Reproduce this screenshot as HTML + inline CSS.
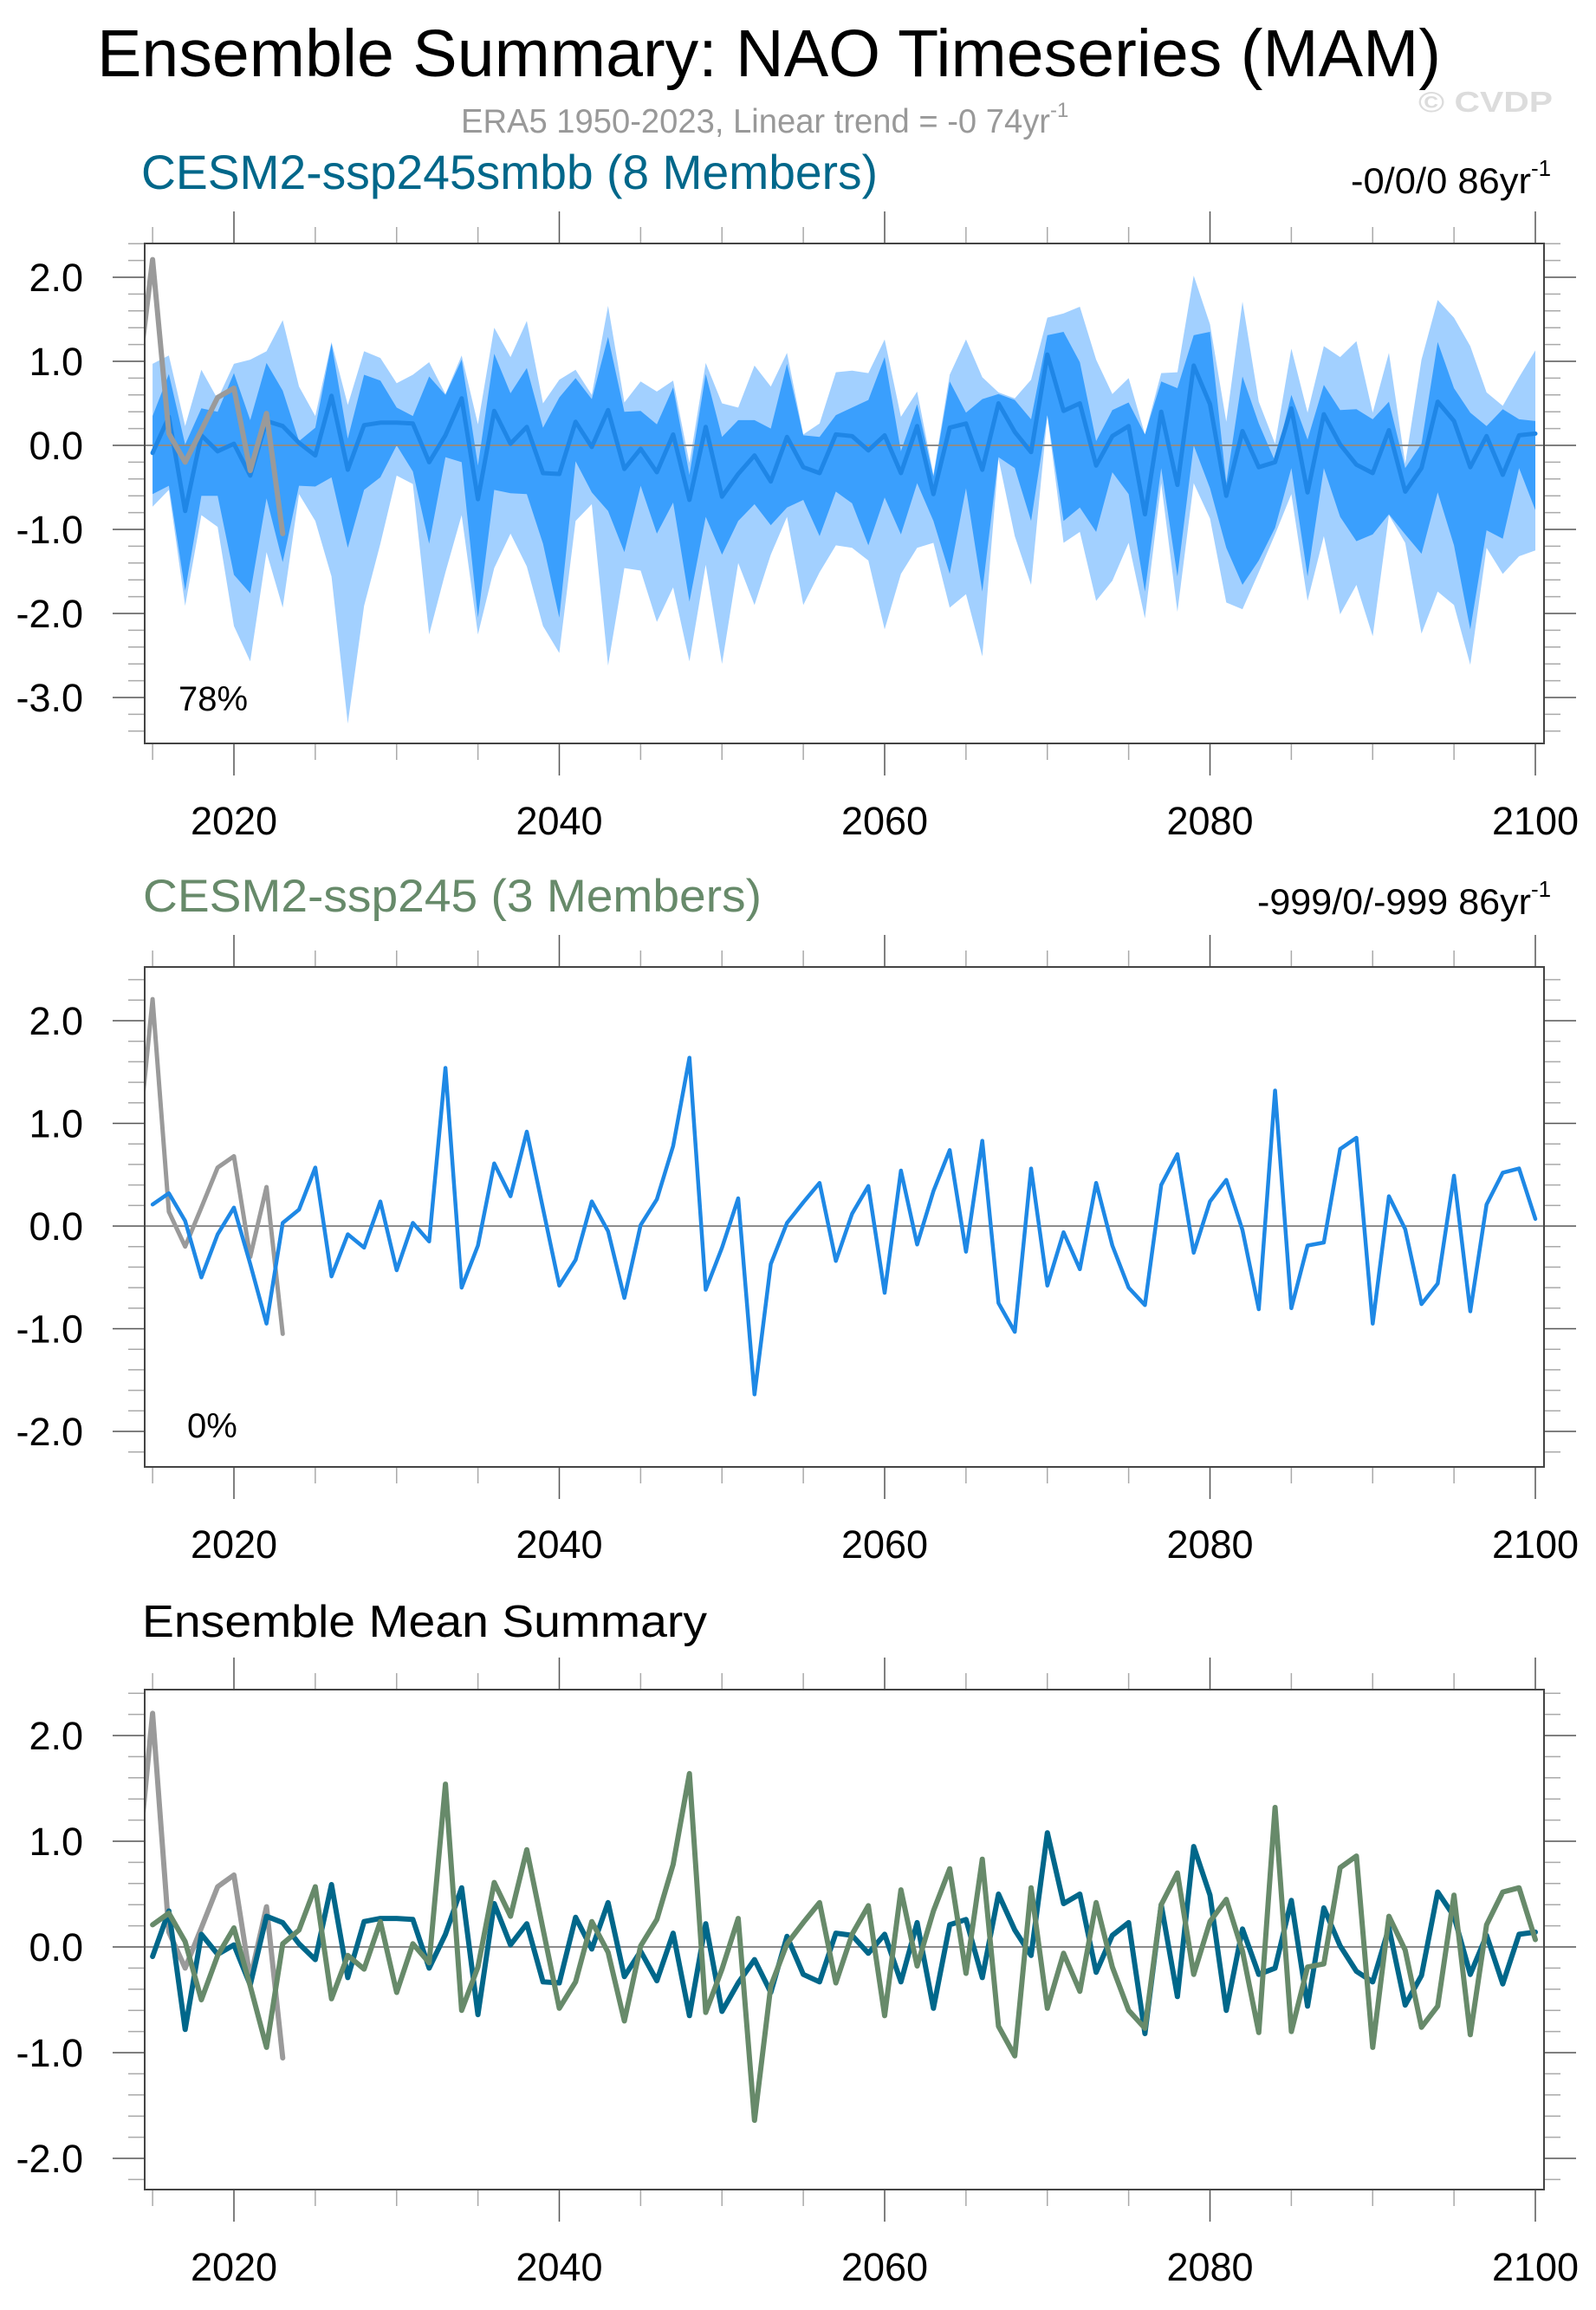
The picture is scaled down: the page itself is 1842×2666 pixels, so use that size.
<!DOCTYPE html>
<html><head><meta charset="utf-8"><title>Ensemble Summary: NAO Timeseries (MAM)</title>
<style>html,body{margin:0;padding:0;background:#fff}svg{display:block}text{font-family:"Liberation Sans",Arial,sans-serif}</style>
</head><body>
<svg id="chart" xmlns="http://www.w3.org/2000/svg" width="1842" height="2666" viewBox="0 0 1842 2666">
<text x="112" y="88" font-size="77" textLength="1551" lengthAdjust="spacingAndGlyphs" fill="#000">Ensemble Summary: NAO Timeseries (MAM)</text>
<text x="532" y="153" font-size="39" fill="#999"><tspan textLength="680" lengthAdjust="spacingAndGlyphs">ERA5 1950-2023, Linear trend = -0 74yr</tspan><tspan font-size="24" dy="-18">-1</tspan></text>
<text x="1637" y="129" font-size="33" font-weight="bold" fill="#dcdcdc" textLength="155" lengthAdjust="spacingAndGlyphs">© CVDP</text>
<text x="163" y="218" font-size="56" fill="#00678a" textLength="850" lengthAdjust="spacingAndGlyphs">CESM2-ssp245smbb (8 Members)</text>
<text x="1559" y="223" font-size="42" fill="#000"><tspan textLength="208" lengthAdjust="spacingAndGlyphs">-0/0/0 86yr</tspan><tspan font-size="26" dy="-20">-1</tspan></text>
<text x="165" y="1052" font-size="53" fill="#678a6a" textLength="714" lengthAdjust="spacingAndGlyphs">CESM2-ssp245 (3 Members)</text>
<text x="1451" y="1055" font-size="42" fill="#000"><tspan textLength="316" lengthAdjust="spacingAndGlyphs">-999/0/-999 86yr</tspan><tspan font-size="26" dy="-20">-1</tspan></text>
<text x="164" y="1889" font-size="52" fill="#000" textLength="652" lengthAdjust="spacingAndGlyphs">Ensemble Mean Summary</text>
<text x="206" y="820" font-size="40" fill="#000">78%</text>
<text x="216" y="1659" font-size="40" fill="#000">0%</text>
</svg>
<script>
const startYear = 2015;
const era5Start = 2014;
const era5Values = [0.62, 2.21, 0.14, -0.20, 0.18, 0.57, 0.68, -0.30, 0.38, -1.05];
const meanSmbb = [
-0.09,0.34,-0.78,0.12,-0.07,0.02,-0.36,0.29,0.23,0.03,
-0.12,0.59,-0.29,0.24,0.27,0.27,0.26,-0.20,0.12,0.56,
-0.64,0.41,0.02,0.22,-0.33,-0.34,0.28,-0.02,0.42,-0.28,
-0.04,-0.32,0.13,-0.65,0.22,-0.61,-0.34,-0.12,-0.43,0.10,
-0.26,-0.33,0.13,0.11,-0.06,0.12,-0.33,0.23,-0.58,0.21,
0.26,-0.29,0.50,0.16,-0.08,1.08,0.41,0.50,-0.24,0.11,
0.23,-0.82,0.40,-0.47,0.95,0.49,-0.60,0.17,-0.26,-0.20,
0.44,-0.56,0.37,0.01,-0.23,-0.33,0.18,-0.55,-0.27,0.52,
0.29,-0.26,0.11,-0.35,0.12,0.14];
const memberSsp245 = [
0.21,0.32,0.05,-0.50,-0.08,0.18,-0.37,-0.95,0.03,0.16,
0.57,-0.49,-0.08,-0.21,0.24,-0.43,0.03,-0.15,1.54,-0.60,
-0.19,0.61,0.29,0.92,0.17,-0.58,-0.33,0.24,-0.05,-0.70,
0.01,0.26,0.78,1.64,-0.62,-0.21,0.27,-1.64,-0.37,0.03,
0.23,0.42,-0.34,0.12,0.39,-0.65,0.54,-0.18,0.34,0.74,
-0.25,0.83,-0.75,-1.03,0.56,-0.58,-0.06,-0.42,0.42,-0.19,
-0.60,-0.77,0.40,0.70,-0.26,0.24,0.45,-0.04,-0.81,1.32,
-0.80,-0.19,-0.16,0.75,0.86,-0.95,0.29,-0.03,-0.76,-0.56,
0.49,-0.83,0.21,0.52,0.56,0.07];
const outerHi = [
0.97,1.07,0.23,0.90,0.55,0.97,1.02,1.12,1.49,0.70,
0.35,1.23,0.48,1.12,1.04,0.74,0.84,0.99,0.61,1.07,
0.25,1.40,1.05,1.48,0.50,0.78,0.90,0.60,1.66,0.51,
0.76,0.64,0.77,-0.21,0.98,0.50,0.45,0.95,0.70,1.10,
0.13,0.26,0.87,0.89,0.86,1.26,0.34,0.64,-0.35,0.84,
1.26,0.81,0.63,0.56,0.78,1.52,1.57,1.65,1.02,0.61,
0.80,0.13,0.86,0.87,2.02,1.44,0.28,1.71,0.52,0.02,
1.15,0.39,1.18,1.05,1.24,0.39,1.10,-0.22,1.02,1.73,
1.52,1.18,0.63,0.47,0.81,1.13];
const innerHi = [
0.35,0.85,0.01,0.44,0.40,0.86,0.30,0.98,0.65,0.05,
0.21,1.21,0.08,0.84,0.77,0.45,0.35,0.82,0.60,1.02,
-0.24,1.09,0.62,0.92,0.21,0.57,0.80,0.55,1.29,0.40,
0.41,0.25,0.69,-0.35,0.85,0.10,0.30,0.30,0.20,0.97,
0.12,0.10,0.36,0.45,0.54,1.05,-0.07,0.49,-0.37,0.76,
0.39,0.55,0.61,0.54,0.31,1.31,1.35,0.99,0.05,0.42,
0.51,0.13,0.76,0.68,1.31,1.35,-0.45,0.82,0.26,-0.19,
0.60,0.07,0.72,0.42,0.43,0.31,0.52,-0.27,0.02,1.23,
0.68,0.39,0.23,0.43,0.31,0.29];
const innerLo = [
-0.58,-0.48,-1.73,-0.60,-0.60,-1.54,-1.76,-0.63,-1.39,-0.48,
-0.49,-0.38,-1.22,-0.53,-0.38,0.00,-0.31,-1.17,-0.14,-0.20,
-2.05,-0.53,-0.57,-0.58,-1.17,-2.05,-0.19,-0.56,-0.78,-1.27,
-0.48,-1.05,-0.68,-1.86,-0.85,-1.30,-0.90,-0.70,-0.95,-0.74,
-0.65,-1.08,-0.55,-0.69,-1.19,-0.62,-1.06,-0.45,-0.90,-1.53,
-0.51,-1.74,-0.14,-0.27,-0.90,0.36,-0.90,-0.74,-1.03,-0.32,
-0.58,-1.74,-0.27,-1.56,0.00,-0.51,-1.22,-1.66,-1.37,-0.98,
-0.27,-1.56,-0.27,-0.85,-1.14,-1.06,-0.82,-1.06,-1.29,-0.56,
-1.19,-2.19,-1.01,-1.11,-0.27,-0.77];
const outerLo = [
-0.73,-0.53,-1.91,-0.83,-0.97,-2.15,-2.57,-1.27,-1.93,-0.58,
-0.90,-1.56,-3.31,-1.91,-1.17,-0.36,-0.46,-2.25,-1.51,-0.83,
-2.25,-1.46,-1.05,-1.44,-2.15,-2.47,-0.90,-0.70,-2.62,-1.46,
-1.49,-2.10,-1.69,-2.57,-1.42,-2.60,-1.40,-1.90,-1.30,-0.85,
-1.90,-1.51,-1.19,-1.22,-1.37,-2.19,-1.53,-1.22,-1.16,-1.93,
-1.77,-2.51,-0.16,-1.08,-1.66,0.36,-1.16,-1.03,-1.85,-1.61,
-1.16,-2.06,-0.45,-1.98,-0.45,-0.87,-1.87,-1.95,-1.51,-1.06,
-0.58,-1.85,-1.08,-2.01,-1.66,-2.27,-0.83,-1.16,-2.24,-1.74,
-1.90,-2.61,-1.22,-1.53,-1.32,-1.25];
const xTickLabels = ["2020","2040","2060","2080","2100"];
const p1YLabels = ["2.0","1.0","0.0","-1.0","-2.0","-3.0"];
const p23YLabels = ["2.0","1.0","0.0","-1.0","-2.0"];

const NS = "http://www.w3.org/2000/svg";
const svg = document.getElementById("chart");
const BOX_L = 167, BOX_R = 1782;
function xScale(yr){ return 270 + (yr - 2020) * 18.775; }
function mk(tag, parent){ const e = document.createElementNS(NS, tag); parent.appendChild(e); return e; }

function drawPanel(idx, top, bottom, zeroY, unit, yLabels){
  const yScale = v => zeroY - v * unit;
  const g = mk("g", svg);
  
  
  const cp = mk("clipPath", g);
  cp.setAttribute("id", "clip" + idx);
  const cr = mk("rect", cp);
  cr.setAttribute("x", BOX_L); cr.setAttribute("y", top);
  cr.setAttribute("width", BOX_R - BOX_L); cr.setAttribute("height", bottom - top);
  const plot = mk("g", g);
  plot.setAttribute("clip-path", "url(#clip" + idx + ")");
  
  
  // x ticks
  for (let yr = 2015; yr <= 2100; yr += 5) {
    const major = yr % 20 === 0;
    const len = major ? 37 : 19;
    const x = xScale(yr);
    [[top, top - len], [bottom, bottom + len]].forEach(([a, b]) => {
      const t = mk("line", g);
      
      
      t.setAttribute("x1", x); t.setAttribute("x2", x);
      t.setAttribute("y1", a); t.setAttribute("y2", b);
      t.setAttribute("stroke", major ? "#555" : "#aaa");
      t.setAttribute("stroke-width", "1.5");
    });
  }
  xTickLabels.forEach(lbl => {
    const t = mk("text", g);
    
    
    t.setAttribute("x", xScale(+lbl)); t.setAttribute("y", bottom + 105);
    t.setAttribute("text-anchor", "middle"); t.setAttribute("font-size", "45");
    t.textContent = lbl;
  });
  // y ticks
  const vmax = (zeroY - top) / unit, vmin = (zeroY - bottom) / unit;
  for (let k = Math.ceil(vmin * 5); k <= Math.floor(vmax * 5); k++) {
    const v = k / 5, y = yScale(v);
    const major = k % 5 === 0;
    const len = major ? 37 : 19;
    [[BOX_L, BOX_L - len], [BOX_R, BOX_R + len]].forEach(([a, b]) => {
      const t = mk("line", g);
      
      
      t.setAttribute("x1", a); t.setAttribute("x2", b);
      t.setAttribute("y1", y); t.setAttribute("y2", y);
      t.setAttribute("stroke", major ? "#555" : "#aaa");
      t.setAttribute("stroke-width", "1.5");
    });
  }
  yLabels.forEach(lbl => {
    const t = mk("text", g);
    
    
    t.setAttribute("x", 96); t.setAttribute("y", yScale(parseFloat(lbl)) + 16);
    t.setAttribute("text-anchor", "end"); t.setAttribute("font-size", "45");
    t.textContent = lbl;
  });
  return { plot, yScale, g };
}

function linePts(vals, start, yScale){ return vals.map((v, i) => xScale(start + i).toFixed(1) + "," + yScale(v).toFixed(1)).join(" "); }
function drawLine(parent, vals, start, yScale, color, w, name){
  const p = mk("polyline", parent);
  
  
  p.setAttribute("points", linePts(vals, start, yScale));
  p.setAttribute("fill", "none"); p.setAttribute("stroke", color);
  p.setAttribute("stroke-width", w); p.setAttribute("stroke-linejoin", "round"); p.setAttribute("stroke-linecap", "round");
}
function drawBand(parent, hi, lo, yScale, color, name){
  const up = hi.map((v, i) => xScale(startYear + i).toFixed(1) + "," + yScale(v).toFixed(1));
  const dn = lo.map((v, i) => xScale(startYear + i).toFixed(1) + "," + yScale(v).toFixed(1)).reverse();
  const p = mk("polygon", parent);
  
  
  p.setAttribute("points", up.concat(dn).join(" "));
  p.setAttribute("fill", color);
}
function zeroLine(parent, yScale){
  const l = mk("line", parent);
  
  
  l.setAttribute("x1", BOX_L); l.setAttribute("x2", BOX_R);
  l.setAttribute("y1", yScale(0)); l.setAttribute("y2", yScale(0));
  l.setAttribute("stroke", "#8c8c8c"); l.setAttribute("stroke-width", "2");
}
function frame(g, top, bottom){
  const r = mk("rect", g);
  
  
  r.setAttribute("x", BOX_L); r.setAttribute("y", top);
  r.setAttribute("width", BOX_R - BOX_L); r.setAttribute("height", bottom - top);
  r.setAttribute("fill", "none"); r.setAttribute("stroke", "#444"); r.setAttribute("stroke-width", "2");
}

// Panel 1
const P1 = drawPanel(1, 281, 858, 514, 97, p1YLabels);
drawBand(P1.plot, outerHi, outerLo, P1.yScale, "#a2d0ff", "outer-spread-band");
drawBand(P1.plot, innerHi, innerLo, P1.yScale, "#3a9ffd", "inner-spread-band");
zeroLine(P1.plot, P1.yScale);
drawLine(P1.plot, meanSmbb, startYear, P1.yScale, "#1f86e6", 5, "ensemble-mean-line");
drawLine(P1.plot, era5Values, era5Start, P1.yScale, "#9a9a9a", 6, "era5-observed-line");
frame(P1.g, 281, 858);

// Panel 2
const P2 = drawPanel(2, 1116, 1693, 1415, 118.5, p23YLabels);
zeroLine(P2.plot, P2.yScale);
drawLine(P2.plot, era5Values, era5Start, P2.yScale, "#9a9a9a", 5, "era5-observed-line");
drawLine(P2.plot, memberSsp245, startYear, P2.yScale, "#1e88e5", 4.5, "ssp245-member-line");
frame(P2.g, 1116, 1693);

// Panel 3
const P3 = drawPanel(3, 1950, 2527, 2247, 122, p23YLabels);
zeroLine(P3.plot, P3.yScale);
drawLine(P3.plot, era5Values, era5Start, P3.yScale, "#9a9a9a", 6, "era5-observed-line");
drawLine(P3.plot, meanSmbb, startYear, P3.yScale, "#00678a", 6, "smbb-mean-line");
drawLine(P3.plot, memberSsp245, startYear, P3.yScale, "#678a6a", 6, "ssp245-mean-line");
frame(P3.g, 1950, 2527);
</script>
</body></html>
